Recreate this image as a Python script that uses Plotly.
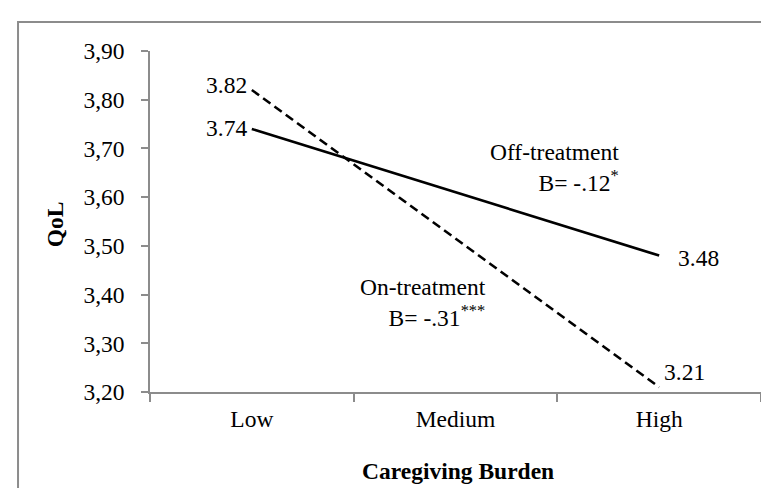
import plotly.graph_objects as go

categories = ["Low", "Medium", "High"]
off_treatment = [3.74, None, 3.48]
on_treatment = [3.82, None, 3.21]
y_ticks = [3.20, 3.30, 3.40, 3.50, 3.60, 3.70, 3.80, 3.90]
off_label = ["Off-treatment", "B= -.12<sup>*</sup>"]
on_label = ["On-treatment", "B= -.31<sup>***</sup>"]

FONT = "Liberation Serif, Times New Roman, serif"
FS = 23.5
AX = "#8c8c8c"

def ends(vals):
    xs = [c for c, v in zip(categories, vals) if v is not None]
    ys = [v for v in vals if v is not None]
    return xs, ys

fig = go.Figure()
xs, ys = ends(off_treatment)
fig.add_trace(go.Scatter(x=xs, y=ys, mode="lines",
                         line=dict(color="black", width=2.6), showlegend=False))
xs, ys = ends(on_treatment)
fig.add_trace(go.Scatter(x=xs, y=ys, mode="lines",
                         line=dict(color="black", width=2.6, dash="9px,5px"), showlegend=False))

ann = []
# value labels
ann.append(dict(x=categories[0], y=on_treatment[0], text=f"{on_treatment[0]:.2f}",
                xanchor="right", yanchor="middle", xshift=-3, yshift=5, showarrow=False))
ann.append(dict(x=categories[0], y=off_treatment[0], text=f"{off_treatment[0]:.2f}",
                xanchor="right", yanchor="middle", xshift=-3, yshift=1, showarrow=False))
ann.append(dict(x=categories[2], y=off_treatment[2], text=f"{off_treatment[2]:.2f}",
                xanchor="left", yanchor="middle", xshift=17, yshift=-2, showarrow=False))
ann.append(dict(x=categories[2], y=on_treatment[2], text=f"{on_treatment[2]:.2f}",
                xanchor="left", yanchor="middle", xshift=3, yshift=15, showarrow=False))
# series labels (two lines each, right aligned)
ann.append(dict(x=1.812, y=3.66, text="<br>".join(off_label), xanchor="right", yanchor="middle",
                align="right", showarrow=False))
ann.append(dict(x=1.159, y=3.3828, text="<br>".join(on_label), xanchor="right", yanchor="middle",
                align="right", showarrow=False))
for a in ann:
    a["font"] = dict(family=FONT, size=FS, color="black")
# axis titles
ann.append(dict(xref="paper", yref="paper", x=-0.155, y=0.493, text="<b>QoL</b>", textangle=-90,
                xanchor="center", yanchor="middle", showarrow=False,
                font=dict(family=FONT, size=FS, color="black")))
ann.append(dict(xref="paper", yref="paper", x=0.504, y=-0.2317, text="<b>Caregiving Burden</b>",
                xanchor="center", yanchor="middle", showarrow=False,
                font=dict(family=FONT, size=FS, color="black")))

fig.update_layout(
    width=769, height=488,
    margin=dict(l=142, r=16, t=43, b=104),
    paper_bgcolor="white", plot_bgcolor="white",
    separators=",.",
    font=dict(family=FONT, size=FS, color="black"),
    annotations=ann,
    shapes=[dict(type="rect", xref="paper", yref="paper", x0=-0.216, x1=1.2, y0=-0.6, y1=1.085,
                 line=dict(color=AX, width=2), fillcolor="rgba(0,0,0,0)", layer="below")],
)
fig.update_xaxes(type="category", categoryorder="array", categoryarray=categories,
                 range=[-0.5, 2.5], showline=True, linecolor=AX, linewidth=1.5,
                 ticks="outside", tickson="boundaries", ticklen=8, tickcolor=AX, tickwidth=1.5,
                 showgrid=False, zeroline=False, ticklabelstandoff=5,
                 tickfont=dict(family=FONT, size=FS, color="black"))
fig.update_yaxes(range=[3.2, 3.9], tickvals=y_ticks, tickformat=".2f",
                 showline=True, linecolor=AX, linewidth=1.5,
                 ticks="outside", ticklen=7, tickcolor=AX, tickwidth=1.5,
                 showgrid=False, zeroline=False, ticklabelstandoff=12,
                 tickfont=dict(family=FONT, size=FS, color="black"))

fig.write_html("out.html")
